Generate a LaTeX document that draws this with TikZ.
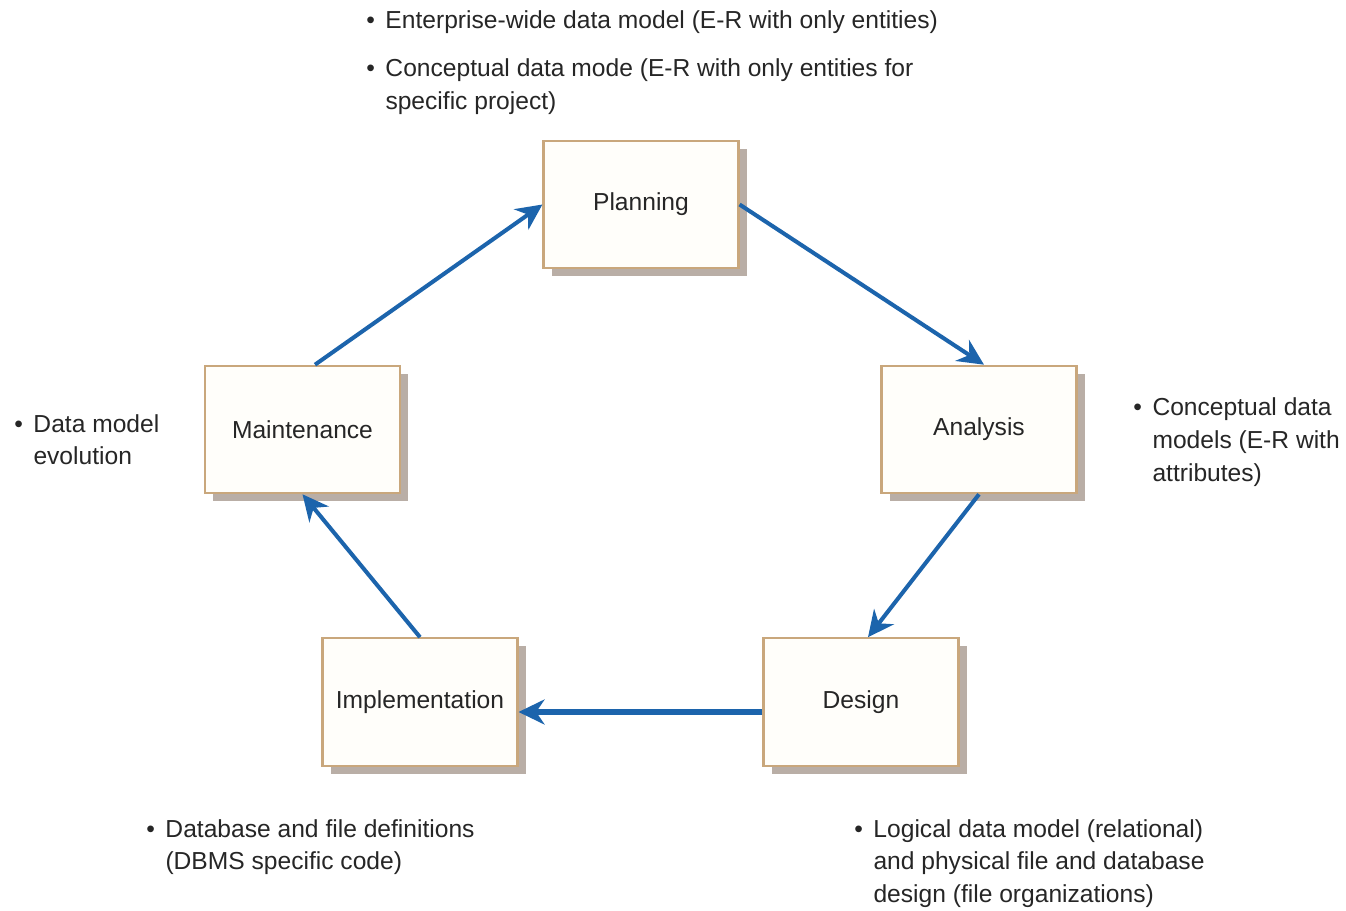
\documentclass[tikz,border=0pt]{standalone}
\usepackage{fontspec}
\setmainfont{Liberation Sans}
\usepackage{tikz}
\usetikzlibrary{arrows.meta,shadows}
\definecolor{boxedge}{HTML}{C9A77C}
\definecolor{boxfill}{HTML}{FFFEFA}
\definecolor{boxshade}{HTML}{B9AEA6}
\definecolor{flowblue}{HTML}{1C64AC}
\definecolor{notegray}{HTML}{262626}
\newcommand{\bulletnote}[1]{\begin{tabular}[t]{@{}l@{\hspace{6pt}}l@{}}\textbullet & \begin{tabular}[t]{@{}l@{}}#1\end{tabular}\end{tabular}}

\begin{document}
\begin{tikzpicture}[
  every node/.style={font=\fontsize{14}{18.6}\selectfont, text=notegray},
  stage/.style={draw=boxedge, line width=1.2pt, fill=boxfill, minimum width=3.9cm, minimum height=2.55cm,
    drop shadow={shadow xshift=0.16cm, shadow yshift=-0.16cm, fill=boxshade, opacity=1}},
  flow/.style={draw=flowblue, line width=2.3pt, -{Stealth[length=0.52cm,width=0.5cm]}},
  note/.style={anchor=base west, inner sep=0pt}]
\useasboundingbox (0,0) rectangle (26.92,18.2);
% Stages
\node[stage] (plan) at (12.82,14.11) {Planning};
\node[stage] (anal) at (19.58,9.61) {Analysis};
\node[stage] (maint) at (6.05,9.61) {Maintenance};
\node[stage] (impl) at (8.40,4.16) {Implementation};
\node[stage] (design) at (17.22,4.16) {Design};
% Flow between stages
\draw[flow] ([xshift=0.25cm]maint.north) -- (plan.west);
\draw[flow] (plan.east) -- ([xshift=0.1cm]anal.north);
\draw[flow] (anal.south) -- ([xshift=0.14cm]design.north);
\draw[flow, line width=3.6pt] ([yshift=-0.2cm]design.west) -- ([yshift=-0.2cm]impl.east);
\draw[flow] (impl.north) -- (maint.south);
% Notes
\node[note] (nplan1) at (7.32,17.62) {\bulletnote{Enterprise-wide data model (E-R with only entities)}};
\node[note] (nplan2) at (7.32,16.66) {\bulletnote{Conceptual data mode (E-R with only entities for\\specific project)}};
\node[note] (nmaint) at (0.28,9.56) {\bulletnote{Data model\\evolution}};
\node[note] (nanal) at (22.66,9.88) {\bulletnote{Conceptual data\\models (E-R with\\attributes)}};
\node[note] (nimpl) at (2.92,1.46) {\bulletnote{Database and file definitions\\(DBMS specific code)}};
\node[note] (ndesign) at (17.08,1.46) {\bulletnote{Logical data model (relational)\\and physical file and database\\design (file organizations)}};
\end{tikzpicture}
\end{document}
